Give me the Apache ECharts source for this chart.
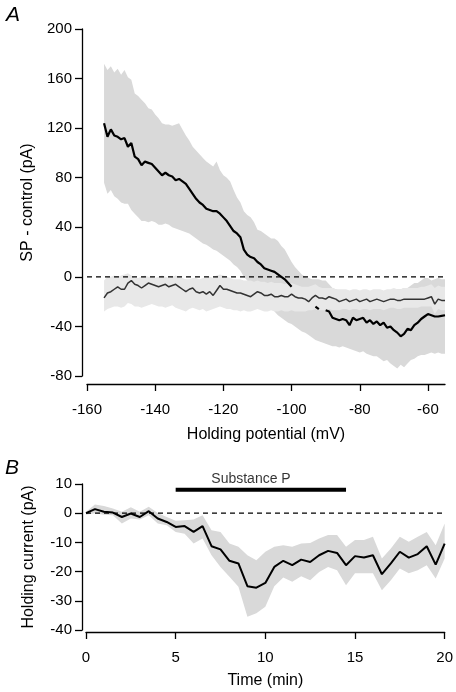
<!DOCTYPE html>
<html><head><meta charset="utf-8">
<script src="https://cdn.jsdelivr.net/npm/echarts@6/dist/echarts.min.js"></script>
<style>html,body{margin:0;padding:0;background:#fff}#c{width:456px;height:692px}</style>
</head><body><div id="c"></div>
<script>
// ---------- Panel A: holding potential (mV), -155 .. -55 in 1 mV steps ----------
const aPotentialStart = -155;
const aPotentialStep = 1;
const aXTicks = [-160, -140, -120, -100, -80, -60];
// SP - control, main trace (black)
const aBlack = [124,113,119,114,113,111,112,105,108,97,
  95,90,93,92,91,88,85,82,84,82,
  81,78,79,77,75,71,67,63,60,58,
  55,54,53,53,51,48,45,41,37,35,
  32,22,18,16,15,12,10,7,6,5,
  4,2,0,-2,-5,-8,
  null,null,null,null,null,null,
  -24,-26,null,
  -27,-28,-33,-34,-35,-34,-35,-39,-33,-35,
  -34,-33,-37,-35,-38,-36,-39,-37,-41,-40,
  -43,-45,-48,-46,-42,-43,-39,-37,-34,-32,
  -30,-31,-32,-32,-31.5,-31];
// band around main trace
const aBandUpper = [172,167,170,165,168,163,167,161,159,148,
  146,143,140,136,135,131,128,124,123,123,
  122,123,124,119,114,110,105,102,99,96,
  93,91,89,93,86,82,80,77,70,64,
  60,53,50,48,44,38,37,35,33,31,
  31,29,25,22,17,12,8,5,2,0,
  -1,-2,-2,-2,-3,-3,-6,-9,-10,-11,
  -11,-11,-12,-12,-12,-13,-12,-12,-12,-12,
  -12,-12,-12,-11,-11,-11,-10,-10,-9,-9,
  -7,-5,-5,-3,-1,-1,-3,-2,-1,-2,
  -2];
const aBandLower = [76,67,70,65,63,60,59,59,54,51,
  48,45,45,44,45,44,42,42,43,42,
  40,39,38,37,36,35,33,31,29,27,
  26,24,22,21,19,17,15,13,10,8,
  5,0,-3,-6,-8,-11,-13,-16,-20,-24,
  -28,-31,-33,-35,-37,-38,-40,-42,-44,-45,
  -47,-49,-51,-52,-53,-54,-55,-56,-56,-57,
  -56,-57,-58,-59,-60,-61,-60,-62,-63,-64,
  -64,-66,-68,-67,-70,-72,-74,-71,-73,-70,
  -67,-66,-64,-63,-63,-62,-61,-62,-61,-62,
  -62];
// second trace (dark grey) and its band
const aGrey = [-17,-13,-12,-10,-8,-10,-10,-5,-3,-6,
  -7,-9,-7,-5,-6,-7,-8,-7,-6,-8,
  -7,-6,-8,-10,-12,-10,-9,-12,-13,-12,
  -14,-12,-15,-11,-7,-10,-10,-11,-12,-13,
  -13,-14,-15,-16,-14,-12,-13,-15,-15,-14,
  -16,-16,-15,-16,-16,-14,-16,-17,-17,-18,
  -20,-17,-15,-17,-17,-18,-16,-17,-18,-20,
  -19,-18,-20,-19,-18,-20,-19,-18,-20,-19,
  -18,-19,-20,-19,-18,-18,-19,-19,-18,-18,
  -18,-18,-18,-18,-18,-17,-16,-22,-18,-19,
  -19];
const aGreyUpper = [-3,0,0,1,0,1,2,3,1,-1,
  -1,0,1,0,0,-1,0,1,0,-1,
  0,1,0,-1,-2,-2,-1,-1,-2,-1,
  -1,0,-1,1,2,1,0,-1,-2,-2,
  -2,-3,-3,-3,-4,-3,-4,-4,-5,-4,
  -5,-5,-5,-6,-5,-5,-6,-7,-8,-8,
  -8,-7,-6,-8,-9,-9,-9,-9,-10,-10,
  -10,-10,-11,-10,-10,-11,-10,-10,-11,-10,
  -10,-10,-11,-10,-10,-9,-10,-10,-9,-9,
  -9,-9,-9,-8,-8,-7,-6,-9,-7,-8,
  -8];
const aGreyLower = [-28,-26,-25,-24,-24,-25,-24,-21,-22,-24,
  -24,-25,-24,-23,-22,-23,-24,-24,-25,-24,
  -23,-25,-26,-27,-28,-26,-25,-26,-27,-26,
  -28,-27,-26,-25,-24,-25,-26,-26,-27,-27,
  -28,-27,-28,-28,-27,-26,-27,-28,-28,-27,
  -28,-28,-27,-28,-28,-27,-28,-28,-28,-28,
  -27,-27,-26,-27,-27,-27,-26,-27,-27,-27,
  -26,-26,-27,-26,-26,-27,-26,-26,-27,-26,
  -26,-26,-27,-26,-25,-25,-26,-26,-25,-25,
  -25,-25,-25,-24,-24,-24,-24,-30,-26,-27,
  -27];

// ---------- Panel B: time (min), 0 .. 20 in 0.5 min steps ----------
const bTimeStart = 0;
const bTimeStep = 0.5;
const bMean = [0,1.4,0.5,0.2,-1.3,-0.1,-1.3,0.7,-1.8,-3,
  -4.7,-4.4,-6.4,-4.4,-11.3,-12.4,-16.3,-17.2,-25,-25.5,
  -23.9,-18.4,-16.3,-17.8,-15.9,-16.7,-14.4,-12.9,-13.6,-17.8,
  -14.7,-15.2,-14.4,-20.9,-17.2,-13.2,-15.2,-14,-11.3,-17.6,
  -10.4];
const bUpper = [0.5,3,2.5,1.6,0.5,2,0.5,2.2,0.1,-1.3,
  -2.6,-2.4,-2.2,-0.7,-5.8,-6.4,-10.4,-11.5,-14.4,-16.1,
  -13.2,-11.5,-11,-11.5,-10.4,-10.2,-8.7,-7.5,-7.5,-11.5,
  -9.2,-9.2,-8.1,-15.5,-12.1,-8.1,-9.8,-8.1,-6.4,-11,
  -3.5];
const bLower = [-0.5,0,-0.5,-0.7,-3.5,-1.8,-2.2,-0.7,-3.5,-4.1,
  -6.4,-7,-10.4,-8.7,-14.4,-18.4,-21.8,-25.2,-35.5,-34.3,
  -32,-25,-22,-23.5,-21.6,-23,-20.1,-18.4,-19.5,-24.7,
  -20.6,-20.6,-20.6,-26.4,-23,-18.9,-20.6,-19.5,-17.8,-22.4,
  -15.5];
const spBar = [5, 14.5];      // application of Substance P (min)
const spBarLevel = 8;         // pA level of the bar
const spLabelTime = 9.2;

const FONT = 'Liberation Sans';
const aX = aBlack.map((_, i) => aPotentialStart + i * aPotentialStep);
const bX = bMean.map((_, i) => bTimeStart + i * bTimeStep);

function bandSeries(xs, lo, hi, color, gi) {
  return {
    type: 'custom', xAxisIndex: gi, yAxisIndex: gi, silent: true, clip: true,
    data: [[xs[0], lo[0]]],
    renderItem: function (params, api) {
      const pts = [];
      for (let i = 0; i < xs.length; i++) pts.push(api.coord([xs[i], hi[i]]));
      for (let i = xs.length - 1; i >= 0; i--) pts.push(api.coord([xs[i], lo[i]]));
      return { type: 'polygon', shape: { points: pts }, style: { fill: color, stroke: null } };
    }
  };
}
function lineSeries(xs, ys, gi, color, width, extra) {
  return Object.assign({ type: 'line', xAxisIndex: gi, yAxisIndex: gi,
    data: xs.map((x, i) => [x, ys[i]]), symbol: 'none', silent: true, connectNulls: false,
    lineStyle: { color: color, width: width } }, extra || {});
}

const axisCommon = {
  axisLine: { onZero: false, lineStyle: { color: '#000', width: 1.3 } },
  axisTick: { length: 7, lineStyle: { color: '#000', width: 1.3 } },
  splitLine: { show: false },
  nameLocation: 'middle',
  nameTextStyle: { color: '#000', fontSize: 16, fontFamily: FONT }
};
const labelCommon = { color: '#000', fontSize: 15, fontFamily: FONT };

const chart = echarts.init(document.getElementById('c'), null, { renderer: 'canvas' });
chart.setOption({
  animation: false,
  backgroundColor: '#fff',
  grid: [
    { left: 87, top: 29, width: 358, height: 347 },
    { left: 86, top: 484, width: 360, height: 146 }
  ],
  xAxis: [
    Object.assign({}, axisCommon, {
      type: 'value', gridIndex: 0, min: -160, max: -55, offset: 8,
      axisTick: Object.assign({}, axisCommon.axisTick, { customValues: aXTicks }),
      axisLabel: Object.assign({}, labelCommon, { customValues: aXTicks, margin: 18 }),
      name: 'Holding potential (mV)', nameGap: 43 }),
    Object.assign({}, axisCommon, {
      type: 'value', gridIndex: 1, min: 0, max: 20, interval: 5, offset: 2,
      axisLabel: Object.assign({}, labelCommon, { margin: 18 }),
      name: 'Time (min)', nameGap: 41 })
  ],
  yAxis: [
    Object.assign({}, axisCommon, {
      type: 'value', gridIndex: 0, min: -80, max: 200, interval: 40, offset: 5,
      axisLabel: Object.assign({}, labelCommon, { margin: 10 }),
      name: 'SP - control (pA)', nameGap: 45 }),
    Object.assign({}, axisCommon, {
      type: 'value', gridIndex: 1, min: -40, max: 10, interval: 10, offset: 4,
      axisLabel: Object.assign({}, labelCommon, { margin: 10 }),
      name: 'Holding current (pA)', nameGap: 45 })
  ],
  graphic: [
    { type: 'text', left: 6, top: 5, style: { text: 'A', font: 'italic 21px "Liberation Sans"', fill: '#000' } },
    { type: 'text', left: 5, top: 458, style: { text: 'B', font: 'italic 21px "Liberation Sans"', fill: '#000' } }
  ],
  series: [
    lineSeries([-160, -55], [0, 0], 0, '#000', 1.2, { lineStyle: { color: '#000', width: 1.2, type: [5, 4] } }),
    bandSeries(aX, aBandLower, aBandUpper, '#d9d9d9', 0),
    bandSeries(aX, aGreyLower, aGreyUpper, '#e8e8e8', 0),
    lineSeries(aX, aGrey, 0, '#333', 1.5),
    lineSeries(aX, aBlack, 0, '#000', 2.2),

    lineSeries([0, 20], [0, 0], 1, '#000', 1.2, { lineStyle: { color: '#000', width: 1.2, type: [5, 4] } }),
    bandSeries(bX, bLower, bUpper, '#d9d9d9', 1),
    lineSeries(bX, bMean, 1, '#000', 2),
    lineSeries(spBar, [spBarLevel, spBarLevel], 1, '#000', 4),
    { type: 'scatter', xAxisIndex: 1, yAxisIndex: 1, data: [[spLabelTime, spBarLevel]],
      symbolSize: 0, silent: true,
      label: { show: true, position: 'top', distance: 4, formatter: 'Substance P',
               color: '#000', fontSize: 14, fontFamily: FONT } }
  ]
});
</script>
</body></html>
